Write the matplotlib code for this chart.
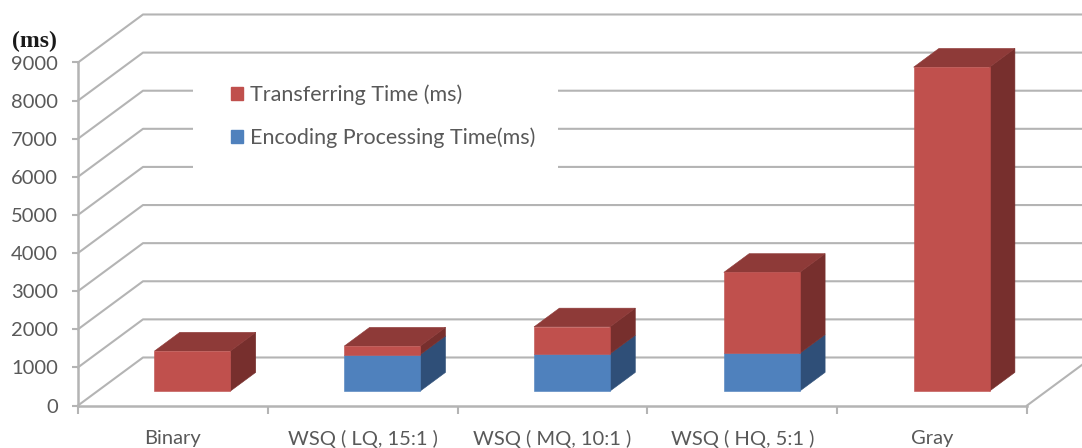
import matplotlib
matplotlib.use("Agg")
import matplotlib.pyplot as plt
from matplotlib.patches import Patch, Rectangle

plt.rcParams['font.family'] = ['Lato', 'DejaVu Sans']

categories = ['Binary', 'WSQ ( LQ, 15:1 )', 'WSQ ( MQ, 10:1 )', 'WSQ ( HQ, 5:1 )', 'Gray']
encoding_time = [0, 955, 975, 990, 0]
transfer_time = [1050, 225, 710, 2125, 8500]
y_ticks = [0, 1000, 2000, 3000, 4000, 5000, 6000, 7000, 8000, 9000]

W, H = 1082, 448
# oblique 3d look: one unit of depth moves this far in data units
DEPTH_X = 65 / 189.8
DEPTH_Y = 48 / 38.1 * 1000
BAR_W = 0.4
BAR_D0, BAR_D1 = 0.3, 0.69
GRID = '#b4b4b4'
TEXT = '#595959'


def proj(x, y, d):
    return x + d * DEPTH_X, y + d * DEPTH_Y


def face(ax, pts, color, z):
    xs, ys = zip(*pts)
    ax.fill(xs, ys, color=color, lw=0.4, zorder=z, clip_on=False)


def draw_segment(ax, x, low, high, front, side, top, z):
    x1 = x + BAR_W
    face(ax, [proj(x1, low, BAR_D0), proj(x1, low, BAR_D1), proj(x1, high, BAR_D1), proj(x1, high, BAR_D0)], side, z)
    if top:
        face(ax, [proj(x, high, BAR_D0), proj(x1, high, BAR_D0), proj(x1, high, BAR_D1), proj(x, high, BAR_D1)], top, z)
    face(ax, [proj(x, low, BAR_D0), proj(x1, low, BAR_D0), proj(x1, high, BAR_D0), proj(x, high, BAR_D0)], front, z + 0.1)


fig = plt.figure(figsize=(W / 100, H / 100), dpi=100)
ax = fig.add_axes([78 / W, (H - 405.5) / H, 949 / W, 343 / H])
ax.set_xlim(0, 5)
ax.set_ylim(0, 9000)
ax.patch.set_alpha(0)

# walls and gridlines
for v in y_ticks:
    bx, by = proj(0, v, 1)
    ex, ey = proj(5, v, 1)
    ax.plot([0, bx, ex], [v, by, ey], color=GRID, lw=1.5, zorder=1, clip_on=False)
fx, fy = proj(5, 0, 1)
ax.plot([5, fx], [0, fy], color=GRID, lw=1.5, zorder=1, clip_on=False)

# white block behind the legend
fig_tr = fig.transFigure
ax.add_patch(Rectangle((193 / W, 1 - 180 / H), 365 / W, 105 / H, transform=fig_tr,
                       facecolor='white', edgecolor='none', zorder=2, clip_on=False))

# bars
for i in range(len(categories)):
    x = i + 0.5 - BAR_W / 2
    enc = encoding_time[i]
    tr = transfer_time[i]
    if enc > 0:
        draw_segment(ax, x, 0, enc, '#4f81bd', '#2f4f78', None, 3)
    draw_segment(ax, x, enc, enc + tr, '#c0504d', '#772f2d', '#8e3a38', 3.5)

ax.set_xticks(range(6))
ax.set_xticklabels([])
ax.set_xticks([i + 0.5 for i in range(5)], minor=True)
ax.set_xticklabels(categories, minor=True, fontsize=14.5, color=TEXT)
ax.tick_params(axis='x', which='minor', length=0, pad=17.5)
ax.tick_params(axis='x', which='major', length=6, width=1.5, color=GRID)
ax.set_yticks(y_ticks)
ax.set_yticklabels([str(v) for v in y_ticks], fontsize=14.5, color=TEXT)
ax.tick_params(axis='y', length=4.5, width=1.5, color=GRID, pad=10)
for s in ['top', 'right']:
    ax.spines[s].set_visible(False)
for s in ['left', 'bottom']:
    ax.spines[s].set_color(GRID)
    ax.spines[s].set_linewidth(1.8)

fig.text(12 / W, 1 - 41.5 / H, '(ms)', fontsize=17, fontweight='bold', color='#1a1a1a',
         family='Liberation Serif', va='center', ha='left')

handles = [Patch(color='#c0504d', label='Transferring Time (ms)'),
           Patch(color='#4f81bd', label='Encoding Processing Time(ms)')]
leg = fig.legend(handles=handles, loc='upper left', bbox_to_anchor=(214 / W, 1 - 67.5 / H), frameon=False,
                 fontsize=15.5, labelcolor=TEXT, handlelength=0.56, handleheight=0.56,
                 handletextpad=0.33, labelspacing=1.03, borderpad=0.3)
leg.set_zorder(5)

fig.savefig('out.png', dpi=100)
